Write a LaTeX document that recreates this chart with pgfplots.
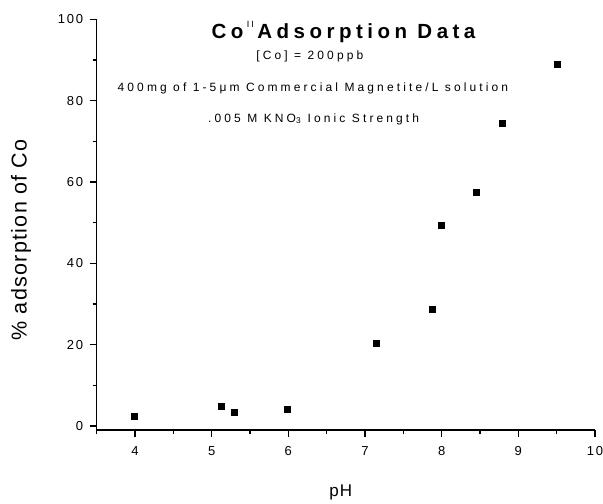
\documentclass[border=0pt]{standalone}
\usepackage{pgfplots}
\pgfplotsset{compat=1.18}
\usepackage{fontspec}
\setmainfont{Liberation Sans}
\newfontfamily\spaced[LetterSpace=26]{Liberation Sans}
\newfontfamily\spacedt[LetterSpace=22]{Liberation Sans}
\newfontfamily\spacedb[LetterSpace=14]{Liberation Sans}
\newfontfamily\spacedl[LetterSpace=6]{Liberation Sans}
\begin{document}
\begin{tikzpicture}
\useasboundingbox (-96.7bp,-74bp) rectangle (506.3bp,430bp);
\begin{axis}[
  at={(0,0)}, anchor=south west,
  scale only axis, width=498.3bp, height=410.5bp,
  xmin=3.5, xmax=10, ymin=-1, ymax=100,
  axis x line*=bottom, axis y line*=left,
  axis line style={line width=1.3bp, black, -},
  every tick/.style={line width=1.3bp, black},
  tick align=outside,
  major tick length=7bp, minor tick length=4bp,
  xtick={4,5,...,10}, ytick={0,20,...,100},
  minor xtick={3.5,4.5,...,9.5}, minor ytick={10,30,...,90},
  /pgf/number format/assume math mode=true,
  ticklabel style={font=\spacedb\fontsize{13bp}{15bp}\selectfont},
  xticklabel style={yshift=-6bp},
  yticklabel style={xshift=-3bp},
  xlabel={pH},
  ylabel={\% adsorption of Co},
  xlabel style={font=\spacedl\fontsize{17bp}{20bp}\selectfont, at={(axis description cs:0.49,-0.153)}, anchor=center},
  ylabel style={font=\spacedl\fontsize{21.5bp}{24bp}\selectfont, at={(axis description cs:-0.152,0.463)}, anchor=center},
]
\addplot[only marks, mark=square*, mark size=3bp, black] coordinates {
  (3.99,2.3) (5.13,4.75) (5.29,3.3) (5.99,4.2) (7.14,20.4)
  (7.87,28.8) (8.00,49.4) (8.45,57.4) (8.79,74.6) (9.51,88.9)
};
\node at (axis cs:6.72,97) {\spacedt\fontsize{20.5bp}{23bp}\selectfont\bfseries Co\,\raisebox{0.55em}{\fontsize{9bp}{9bp}\selectfont\mdseries II}\,Adsorption Data};
\node at (axis cs:6.28,90.8) {\spaced\fontsize{12bp}{14bp}\selectfont [Co] = 200ppb};
\node at (axis cs:6.32,83.1) {\spaced\fontsize{12bp}{14bp}\selectfont 400mg of 1-5μm Commercial Magnetite/L solution};
\node at (axis cs:6.33,75.5) {\spaced\fontsize{12bp}{14bp}\selectfont .005 M KNO\textsubscript{3} Ionic Strength};
\end{axis}
\end{tikzpicture}
\end{document}
